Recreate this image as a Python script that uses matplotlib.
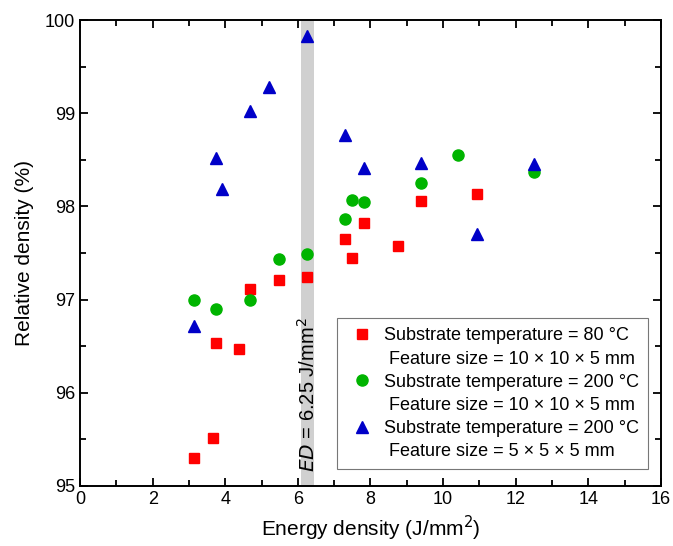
import matplotlib.pyplot as plt
from matplotlib.lines import Line2D
from matplotlib.ticker import MultipleLocator

plt.rcParams['font.family'] = ['Liberation Sans', 'DejaVu Sans']

# 80 °C, 10 x 10 x 5 mm
red_x = [3.13, 3.65, 3.75, 4.39, 4.69, 5.47, 6.25, 7.29, 7.5, 7.81, 8.75, 9.38, 10.94]
red_y = [95.30, 95.52, 96.53, 96.47, 97.11, 97.21, 97.24, 97.65, 97.45, 97.82, 97.58, 98.06, 98.13]

# 200 °C, 10 x 10 x 5 mm
green_x = [3.13, 3.75, 4.69, 5.47, 6.25, 7.29, 7.5, 7.81, 9.38, 10.42, 12.5]
green_y = [97.00, 96.90, 97.00, 97.44, 97.49, 97.87, 98.07, 98.05, 98.25, 98.55, 98.37]

# 200 °C, 5 x 5 x 5 mm
blue_x = [3.13, 3.75, 3.91, 4.69, 5.21, 6.25, 7.29, 7.81, 9.38, 10.94, 12.5]
blue_y = [96.72, 98.52, 98.19, 99.02, 99.28, 99.83, 98.77, 98.41, 98.47, 97.70, 98.46]

labels = ['Substrate temperature = 80 °C', ' Feature size = 10 × 10 × 5 mm',
          'Substrate temperature = 200 °C', ' Feature size = 10 × 10 × 5 mm',
          'Substrate temperature = 200 °C', ' Feature size = 5 × 5 × 5 mm']

red, green, blue = '#ff0000', '#00b400', '#0000c8'

fig = plt.figure(figsize=(6.73, 5.46), dpi=100)
ax = fig.add_axes([0.119, 0.110, 0.863, 0.853])

ax.axvspan(6.08, 6.45, color='#d0d0d0', zorder=1, lw=0)
ax.text(6.27, 95.15, r'$\it{ED}$ = 6.25 J/mm$^2$', rotation=90, ha='center', va='bottom',
        fontsize=14.5, zorder=2)

ax.plot(red_x, red_y, 's', color=red, ms=7, zorder=3)
ax.plot(green_x, green_y, 'o', color=green, ms=8, zorder=3)
ax.plot(blue_x, blue_y, '^', color=blue, ms=9, zorder=3)

ax.set_xlim(0, 16)
ax.set_ylim(95, 100)
ax.xaxis.set_major_locator(MultipleLocator(2))
ax.xaxis.set_minor_locator(MultipleLocator(1))
ax.yaxis.set_major_locator(MultipleLocator(1))
ax.yaxis.set_minor_locator(MultipleLocator(0.5))
ax.tick_params(which='both', direction='in', top=True, right=True, width=1.3, labelsize=13)
ax.tick_params(which='major', length=6)
ax.tick_params(which='minor', length=4)
for s in ax.spines.values():
    s.set_linewidth(1.4)

ax.set_xlabel('Energy density (J/mm$^2$)', fontsize=15, labelpad=4)
ax.set_ylabel('Relative density (%)', fontsize=15, labelpad=8)

blank = Line2D([], [], linestyle='none', marker='')
handles = [Line2D([], [], ls='none', marker='s', color=red, ms=7), blank,
           Line2D([], [], ls='none', marker='o', color=green, ms=8), blank,
           Line2D([], [], ls='none', marker='^', color=blue, ms=9), blank]
leg = ax.legend(handles, labels, loc='lower right', bbox_to_anchor=(0.978, 0.036),
                borderaxespad=0, fontsize=13, labelspacing=0.34, handlelength=1.75,
                handletextpad=0.33, frameon=True, fancybox=False, edgecolor='#555555',
                borderpad=0.5)
leg.get_frame().set_linewidth(0.8)

fig.savefig('out.png', dpi=100)
